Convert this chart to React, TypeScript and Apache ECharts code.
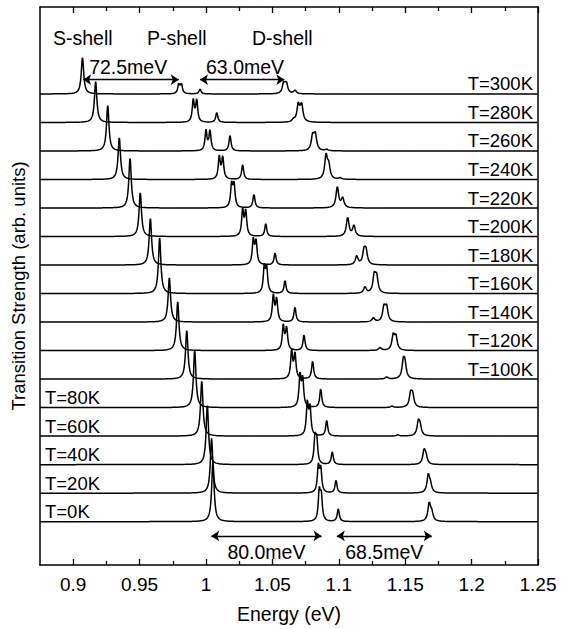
import React, { useEffect, useRef } from "react";
import * as echarts from "echarts";

// ---------- data (index 0 = 0K ... index 15 = 300K) ----------
const temperatures = [0, 20, 40, 60, 80, 100, 120, 140, 160, 180, 200, 220, 240, 260, 280, 300];

// S-shell peak
const sEnergy = [1.0052, 1.0042, 1.001, 0.9968, 0.9915, 0.9855, 0.9787, 0.9724, 0.9651, 0.9581, 0.9505, 0.9428, 0.9347, 0.926, 0.9169, 0.907];
const sHeight = [2.09, 1.92, 2.07, 1.92, 2.0, 1.7, 1.71, 1.55, 1.94, 1.63, 1.53, 1.74, 1.46, 1.59, 1.43, 1.29];

// P-shell doublet
const p1Energy = [1.0853, 1.0846, 1.0821, 1.0763, 1.0708, 1.0645, 1.0582, 1.0507, 1.0439, 1.0356, 1.0276, 1.0193, 1.01, 1.0, 0.9904, 0.9795];
const p2Energy = [1.0868, 1.0864, 1.0834, 1.0783, 1.0728, 1.067, 1.0607, 1.0532, 1.0457, 1.0377, 1.0299, 1.0211, 1.0126, 1.003, 0.993, 0.9815];
const p1Height = [1.0, 0.9, 0.9, 1.12, 1.1, 0.95, 0.85, 0.9, 0.9, 0.85, 0.9, 0.8, 0.78, 0.7, 0.76, 0.33];
const p2Height = [0.85, 0.8, 0.75, 0.95, 0.95, 0.85, 0.78, 0.8, 0.82, 0.8, 0.86, 0.78, 0.76, 0.7, 0.76, 0.33];

// P-shell satellite
const pSatEnergy = [1.0996, 1.0979, 1.0951, 1.0909, 1.0864, 1.0803, 1.0738, 1.067, 1.0595, 1.052, 1.045, 1.0361, 1.0276, 1.0181, 1.0081, 0.9955];
const pSatHeight = [0.45, 0.45, 0.45, 0.56, 0.66, 0.63, 0.55, 0.52, 0.45, 0.42, 0.45, 0.48, 0.52, 0.55, 0.35, 0.17];

// D-shell peaks
const d1Energy = [1.1681, 1.1674, 1.1642, 1.1599, 1.1541, 1.1486, 1.141, 1.134, 1.1267, 1.119, 1.1067, 1.0989, 1.0904, 1.0803, 1.0695, 1.0585];
const d2Energy = [1.17, 1.169, 1.1656, 1.1612, 1.1556, 1.1498, 1.143, 1.136, 1.1285, 1.1205, 1.1114, 1.1029, 1.0924, 1.0823, 1.072, 1.0605];
const d1Height = [0.62, 0.6, 0.45, 0.45, 0.45, 0.55, 0.5, 0.5, 0.6, 0.45, 0.66, 0.73, 0.8, 0.5, 0.6, 0.35];
const d2Height = [0.28, 0.25, 0.25, 0.3, 0.4, 0.45, 0.45, 0.5, 0.55, 0.45, 0.37, 0.33, 0.45, 0.55, 0.6, 0.35];
const d3Energy = [1.156, 1.154, 1.15, 1.1445, 1.14, 1.136, 1.1311, 1.126, 1.1197, 1.1135, 1.103, 1.095, 1.1009, 1.0909, 1.0658, 1.067];
const d3Height = [0, 0, 0, 0.04, 0.05, 0.07, 0.1, 0.14, 0.22, 0.3, 0, 0, 0.05, 0.05, 0.08, 0.12];

// axis ticks
const xMajorTicks = [0.9, 0.95, 1, 1.05, 1.1, 1.15, 1.2, 1.25];
const xMinorTicks = [0.925, 0.975, 1.025, 1.075, 1.125, 1.175, 1.225];

// annotations
const shellLabels = ["S-shell", "P-shell", "D-shell"];
const arrowLabels = ["72.5meV", "63.0meV", "80.0meV", "68.5meV"];
const arrowStart = [0.9075, 0.9955, 1.004, 1.0985];
const arrowEnd = [0.9795, 1.059, 1.087, 1.17];
const arrowLevel = [15.5, 15.5, -0.5, -0.5];

// ---------- helpers ----------
const X_MIN = 0.875;
const X_MAX = 1.25;
const Y_MIN = -1.52;
const Y_MAX = 18.05;
const FONT = "'Liberation Sans', Arial, Helvetica, sans-serif";
const G_S = 0.0011;
const G_P = 0.0009;
const G_D = 0.0012;

function lorentz(x: number, x0: number, g: number) {
  const d = (x - x0) / g;
  return 1 / (1 + d * d);
}

function buildTrace(i: number): number[][] {
  const peaks: number[][] = [
    [sEnergy[i], sHeight[i], G_S],
    [p1Energy[i], p1Height[i], G_P],
    [p2Energy[i], p2Height[i], G_P],
    [pSatEnergy[i], pSatHeight[i], G_P],
    [d1Energy[i], d1Height[i], G_D],
    [d2Energy[i], d2Height[i], G_D],
    [d3Energy[i], d3Height[i], G_D],
  ].filter((p) => p[1] > 0);
  const xs: number[] = [];
  const N = 1500;
  for (let k = 0; k <= N; k++) xs.push(X_MIN + ((X_MAX - X_MIN) * k) / N);
  peaks.forEach((p) => {
    [-0.0003, -0.00015, 0, 0.00015, 0.0003].forEach((d) => xs.push(p[0] + d));
  });
  xs.sort((a, b) => a - b);
  return xs.map((x) => {
    let y = i;
    peaks.forEach((p) => {
      y += p[1] * lorentz(x, p[0], p[2]);
    });
    return [x, y];
  });
}

const fmt = (v: number) => String(Math.round(v * 1000) / 1000);

export default function App() {
  const ref = useRef<HTMLDivElement>(null);
  useEffect(() => {
    const chart = echarts.init(ref.current!, null, { renderer: "svg" });
    const axisLineStyle = { color: "#000", width: 1.5 };
    const tickStyle = { color: "#000", width: 1.3 };
    const traceSeries = temperatures.map((t, i) => ({
      type: "line",
      name: `T=${t}K`,
      data: buildTrace(i),
      showSymbol: false,
      symbol: "none",
      smooth: false,
      lineStyle: { color: "#000", width: 1.5 },
      silent: true,
      xAxisIndex: 0,
      yAxisIndex: 0,
    }));
    const arrowSeries = {
      type: "line",
      data: [],
      xAxisIndex: 0,
      yAxisIndex: 0,
      silent: true,
      markLine: {
        silent: true,
        symbol: ["arrow", "arrow"],
        symbolSize: 8,
        label: { show: false },
        lineStyle: { color: "#000", width: 1.3, type: "solid" },
        emphasis: { disabled: true },
        data: arrowStart.map((s, k) => [
          { coord: [s, arrowLevel[k]] },
          { coord: [arrowEnd[k], arrowLevel[k]] },
        ]),
      },
    };
    const baseX = {
      type: "value",
      min: X_MIN,
      max: X_MAX,
      splitLine: { show: false },
      gridIndex: 0,
    };
    chart.setOption({
      animation: false,
      backgroundColor: "#fff",
      grid: { left: 40, right: 23, top: 7, bottom: 61, containLabel: false },
      xAxis: [
        {
          ...baseX,
          position: "bottom",
          axisLine: { show: true, onZero: false, lineStyle: axisLineStyle },
          axisTick: { show: true, inside: true, length: 6, customValues: xMajorTicks, lineStyle: tickStyle },
          axisLabel: {
            show: true,
            customValues: xMajorTicks,
            formatter: fmt,
            color: "#000",
            fontSize: 19,
            fontFamily: FONT,
            margin: 10,
          },
          name: "Energy (eV)",
          nameLocation: "middle",
          nameGap: 39,
          nameTextStyle: { color: "#000", fontSize: 19.5, fontFamily: FONT },
        },
        {
          ...baseX,
          position: "bottom",
          axisLine: { show: false, onZero: false },
          axisTick: { show: true, inside: true, length: 4, customValues: xMinorTicks, lineStyle: tickStyle },
          axisLabel: { show: false },
        },
        {
          ...baseX,
          position: "top",
          axisLine: { show: true, onZero: false, lineStyle: axisLineStyle },
          axisTick: { show: true, inside: true, length: 6, customValues: xMajorTicks, lineStyle: tickStyle },
          axisLabel: { show: false },
        },
        {
          ...baseX,
          position: "top",
          axisLine: { show: false, onZero: false },
          axisTick: { show: true, inside: true, length: 4, customValues: xMinorTicks, lineStyle: tickStyle },
          axisLabel: { show: false },
        },
      ],
      yAxis: [
        {
          type: "value",
          min: Y_MIN,
          max: Y_MAX,
          position: "left",
          axisLine: { show: true, onZero: false, lineStyle: axisLineStyle },
          axisTick: { show: false },
          axisLabel: { show: false },
          splitLine: { show: false },
          name: "Transition Strength (arb. units)",
          nameLocation: "middle",
          nameGap: 12,
          nameRotate: 90,
          nameTextStyle: { color: "#000", fontSize: 18.5, fontFamily: FONT },
        },
        {
          type: "value",
          min: Y_MIN,
          max: Y_MAX,
          position: "right",
          axisLine: { show: true, onZero: false, lineStyle: axisLineStyle },
          axisTick: { show: false },
          axisLabel: { show: false },
          splitLine: { show: false },
        },
      ],
      series: [...traceSeries, arrowSeries],
    });

    const px = (x: number, y: number) => chart.convertToPixel({ gridIndex: 0 }, [x, y]) as number[];
    const rightEdge = px(X_MAX, 0)[0];
    const graphics: any[] = [];
    const textStyle = (text: string, align: string, size = 18.5) => ({
      text,
      fill: "#000",
      font: `${size}px ${FONT}`,
      align,
      verticalAlign: "middle",
    });
    temperatures.forEach((t, i) => {
      const yb = px(X_MIN, i)[1];
      if (t >= 100) {
        graphics.push({ type: "text", x: rightEdge - 5, y: yb - 10, style: textStyle(`T=${t}K`, "right"), silent: true });
      } else {
        graphics.push({ type: "text", x: 45, y: yb - 10, style: textStyle(`T=${t}K`, "left"), silent: true });
      }
    });
    const shellX = [53, 147, 252];
    shellLabels.forEach((s, k) => {
      graphics.push({ type: "text", x: shellX[k], y: 38, style: textStyle(s, "left", 19.5), silent: true });
    });
    arrowLabels.forEach((s, k) => {
      const a = px(arrowStart[k], arrowLevel[k]);
      const b = px(arrowEnd[k], arrowLevel[k]);
      if (arrowLevel[k] > 0) {
        graphics.push({ type: "text", x: a[0] + 6, y: a[1] - 13, style: textStyle(s, "left", 19.5), silent: true });
      } else {
        graphics.push({ type: "text", x: (a[0] + b[0]) / 2, y: a[1] + 16, style: textStyle(s, "center", 19.5), silent: true });
      }
    });
    chart.setOption({ graphic: graphics });
    return () => chart.dispose();
  }, []);
  return (
    <div
      ref={ref}
      style={{ position: "fixed", left: 0, top: 0, width: 561, height: 629, background: "#fff" }}
    />
  );
}
